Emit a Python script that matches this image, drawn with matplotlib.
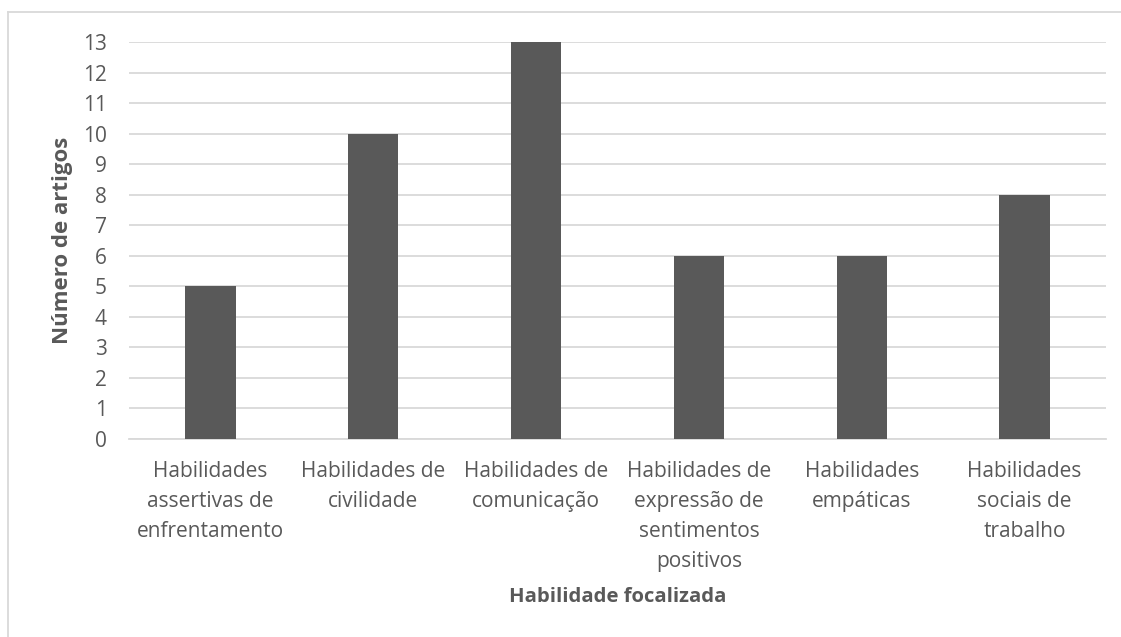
import matplotlib.pyplot as plt
from matplotlib.lines import Line2D

categorias = [
    "Habilidades\nassertivas de\nenfrentamento",
    "Habilidades de\ncivilidade",
    "Habilidades de\ncomunicação",
    "Habilidades de\nexpressão de\nsentimentos\npositivos",
    "Habilidades\nempáticas",
    "Habilidades\nsociais de\ntrabalho",
]
artigos = [5, 10, 13, 6, 6, 8]
yticks = list(range(0, 14))

cinza_txt = "#595959"
cinza_grade = "#d9d9d9"

plt.rcParams["font.family"] = ["Open Sans", "DejaVu Sans"]

fig = plt.figure(figsize=(11.21, 6.37), dpi=100)
ax = fig.add_axes([129 / 1121, 1 - 439 / 637, (1106 - 129) / 1121, (439 - 42) / 637])

x = range(len(categorias))
ax.bar(x, artigos, width=0.31, color="#595959", zorder=3)

ax.set_xlim(-0.5, len(categorias) - 0.5)
ax.set_ylim(0, 13)
ax.set_yticks(yticks)
ax.set_xticks(list(x))
ax.set_xticklabels(categorias, linespacing=1.55)
ax.tick_params(axis="both", length=0, colors=cinza_txt, labelsize=15)
ax.tick_params(axis="x", pad=16)
ax.tick_params(axis="y", pad=16)
ax.grid(axis="y", color=cinza_grade, linewidth=1.3, zorder=0)

for lado in ["top", "right", "left"]:
    ax.spines[lado].set_visible(False)
ax.spines["bottom"].set_color(cinza_grade)
ax.spines["bottom"].set_linewidth(1.3)

ax.set_xlabel("Habilidade focalizada", fontsize=14.6, fontweight="bold",
              color=cinza_txt, labelpad=11)
ax.set_ylabel("Número de artigos", fontsize=16, fontweight="bold",
              color=cinza_txt, labelpad=7)

# moldura cinza clara do gráfico
fig.add_artist(Line2D([8 / 1121, 8 / 1121], [0, 1 - 12 / 637],
                      transform=fig.transFigure, color=cinza_grade, linewidth=1.3))
fig.add_artist(Line2D([8 / 1121, 1], [1 - 12 / 637, 1 - 12 / 637],
                      transform=fig.transFigure, color=cinza_grade, linewidth=1.3))

fig.savefig("out.png", dpi=100)
